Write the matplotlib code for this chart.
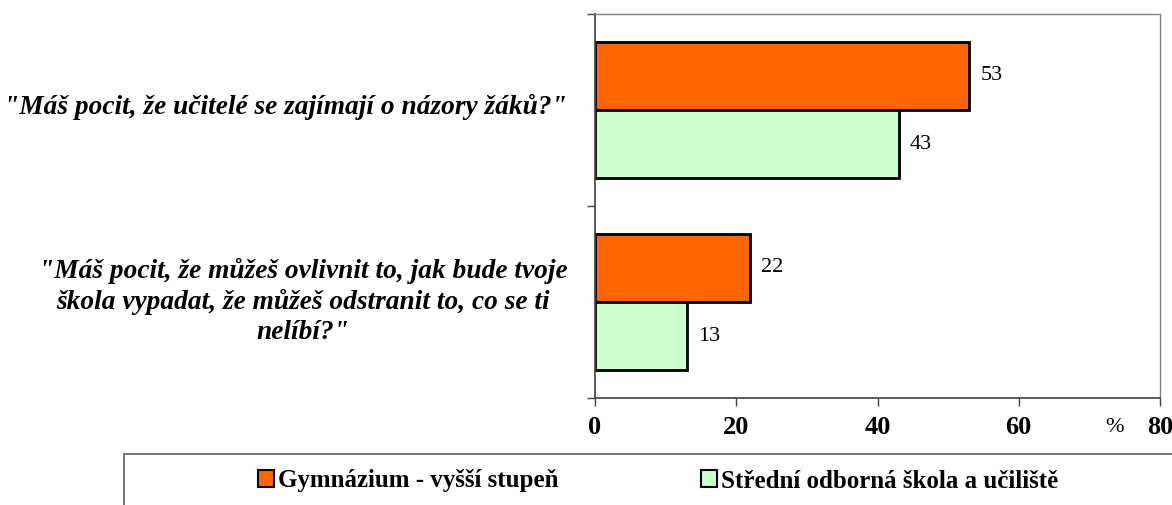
import matplotlib
matplotlib.use('Agg')
import matplotlib.pyplot as plt
from matplotlib.patches import Patch, Rectangle
import numpy as np

plt.rcParams['font.family'] = ['Liberation Serif', 'DejaVu Serif']

# ── data ────────────────────────────────────────────────────────────────
questions = [
    '"Máš pocit, že učitelé se zajímají o názory žáků?"',
    '"Máš pocit, že můžeš ovlivnit to, jak bude tvoje\n'
    'škola vypadat, že můžeš odstranit to, co se ti\nnelíbí?"',
]
series_names = ['Gymnázium - vyšší stupeň', 'Střední odborná škola a učiliště']
gymnazium = [53, 22]
sou = [43, 13]
x_ticks = [0, 20, 40, 60, 80]

ORANGE = '#FF6600'
GREEN = '#CCFFCC'

fig = plt.figure(figsize=(11.72, 5.05), dpi=100)
ax = fig.add_axes([595 / 1172, 1 - 398 / 505, (1160 - 595) / 1172, (398 - 14) / 505])

pos = np.arange(len(questions))
h = 0.355
b1 = ax.barh(pos - h / 2, gymnazium, height=h, color=ORANGE,
             edgecolor='black', linewidth=2)
b2 = ax.barh(pos + h / 2, sou, height=h, color=GREEN,
             edgecolor='black', linewidth=2)

for bars, vals in ((b1, gymnazium), (b2, sou)):
    for rect, v in zip(bars, vals):
        ax.annotate(str(v), (rect.get_width(), rect.get_y() + rect.get_height() / 2),
                    xytext=(8, 0), textcoords='offset points',
                    ha='left', va='center', fontsize=16)

ax.set_xlim(0, 80)
ax.set_ylim(len(questions) - 0.5, -0.5)

ax.set_xticks(x_ticks)
ax.set_xticklabels([str(t) for t in x_ticks], fontsize=19, fontweight='bold')
ax.tick_params(axis='x', direction='out', length=6, width=1, pad=7, color='#404040')

ax.set_yticks([-0.5, 0.5, 1.5])
ax.set_yticklabels([])
ax.tick_params(axis='y', which='major', direction='out', length=6, width=1, color='#404040')
# category labels sit slightly above the group centre
ax.set_yticks(pos - 0.03, minor=True)
ax.set_yticklabels(questions, minor=True, fontsize=19.7, fontweight='bold',
                   fontstyle='italic', linespacing=1.25)
ax.tick_params(axis='y', which='minor', length=0, pad=20)
for lbl in ax.get_yticklabels(minor=True):
    lbl.set_multialignment('center')

for s in ('left', 'bottom'):
    ax.spines[s].set_color('#404040')
    ax.spines[s].set_linewidth(1.2)
for s in ('top', 'right'):
    ax.spines[s].set_color('#808080')
    ax.spines[s].set_linewidth(1)

fig.text(1115 / 1172, 1 - 428 / 505, '%', fontsize=16, ha='center', va='center')

# legend box (runs off the figure edge)
fig.patches.append(Rectangle((124 / 1172, -0.1), 1.1, 0.1 + (505 - 454) / 505,
                             transform=fig.transFigure, facecolor='white',
                             edgecolor='#606060', linewidth=1.2))
handles = [Patch(facecolor=ORANGE, edgecolor='black', linewidth=1.5),
           Patch(facecolor=GREEN, edgecolor='black', linewidth=1.5)]
fig.legend(handles, series_names, loc='center left',
           bbox_to_anchor=(248 / 1172, 1 - 481 / 505), ncol=2, frameon=False,
           prop={'size': 18, 'weight': 'bold'}, handlelength=0.65, handleheight=0.65,
           handletextpad=0.15, columnspacing=5.7, borderaxespad=0)

fig.savefig('out.png', dpi=100)
